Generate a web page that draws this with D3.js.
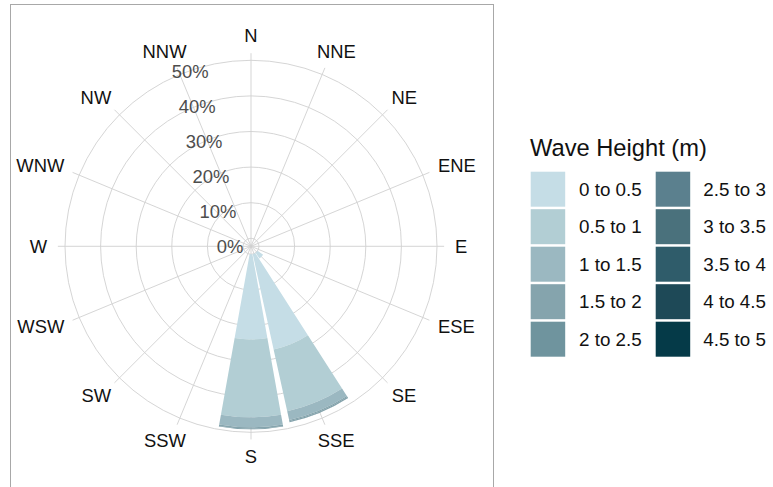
<!DOCTYPE html>
<html>
<head>
<meta charset="utf-8">
<script src="https://cdn.jsdelivr.net/npm/d3@7"></script>
<style>
  html, body { margin: 0; padding: 0; background: #fff; }
  svg { display: block; }
  text { font-family: "Liberation Sans", Arial, Helvetica, sans-serif; }
</style>
</head>
<body>
<svg id="chart" width="773" height="487"></svg>
<script>
// ---- data ----
const directions = ["N","NNE","NE","ENE","E","ESE","SE","SSE","S","SSW","SW","WSW","W","WNW","NW","NNW"];
const bins = ["0 to 0.5","0.5 to 1","1 to 1.5","1.5 to 2","2 to 2.5","2.5 to 3","3 to 3.5","3.5 to 4","4 to 4.5","4.5 to 5"];
const binColors = ["#c5dde6","#b2ced4","#9bb8c1","#85a4ad","#6f949e","#5b808e","#4a717c","#2f5c6a","#1e4957","#053a48"];
const radialTicks = [0, 10, 20, 30, 40, 50];
const tickLabels = ["0%","10%","20%","30%","40%","50%"];
// percent frequency per direction (N ... NNW) for each wave height bin
const h0_05  = [0,0,0,0,0,0,1.9,27.4,23.9,0,0,0,0,0,0,0];
const h05_1  = [0,0,0,0,0,0,0,17.8,21.9,0,0,0,0,0,0,0];
const h1_15  = [0,0,0,0,0,0,0,2.5,2.8,0,0,0,0,0,0,0];
const h15_2  = [0,0,0,0,0,0,0,0.35,0.4,0,0,0,0,0,0,0];
const h2_25  = [0,0,0,0,0,0,0,0.2,0.15,0,0,0,0,0,0,0];
const h25_3  = [0,0,0,0,0,0,0,0.1,0,0,0,0,0,0,0,0];
const h3_35  = [0,0,0,0,0,0,0,0,0,0,0,0,0,0,0,0];
const h35_4  = [0,0,0,0,0,0,0,0,0,0,0,0,0,0,0,0];
const h4_45  = [0,0,0,0,0,0,0,0,0,0,0,0,0,0,0,0];
const h45_5  = [0,0,0,0,0,0,0,0,0,0,0,0,0,0,0,0];
const series = [h0_05,h05_1,h1_15,h15_2,h2_25,h25_3,h3_35,h35_4,h4_45,h45_5];

// ---- layout ----
const svg = d3.select("#chart");
const cx = 251, cy = 246.3;
const r = d3.scaleLinear().domain([0, 50]).range([8, 186]);
const step = 2 * Math.PI / directions.length;
const ang = d3.scaleBand().domain(directions).range([-step/2, 2*Math.PI - step/2]);
const theta = d => ang(d) + ang.bandwidth()/2;

svg.append("rect").attr("width", 773).attr("height", 487).attr("fill", "#fff");

const g = svg.append("g").attr("transform", `translate(${cx},${cy})`);

// grid circles
g.selectAll("circle.grid").data(radialTicks).join("circle")
  .attr("r", d => r(d)).attr("fill", "none")
  .attr("stroke", "#d0d0d0").attr("stroke-width", 0.9);

// spokes
g.selectAll("line.spoke").data(directions).join("line")
  .attr("x1", 0).attr("y1", 0)
  .attr("x2", d => Math.sin(theta(d)) * r(52))
  .attr("y2", d => -Math.cos(theta(d)) * r(52))
  .attr("stroke", "#d0d0d0").attr("stroke-width", 0.9);

// stacked bars
const stackData = [];
directions.forEach((dir, i) => {
  let acc = 0;
  series.forEach((s, k) => {
    const v = s[i];
    if (v > 0) {
      stackData.push({dir, k, y0: acc, y1: acc + v});
      acc += v;
    }
  });
});
const arc = d3.arc()
  .innerRadius(d => r(d.y0))
  .outerRadius(d => r(d.y1))
  .startAngle(d => theta(d.dir) - step * 0.45)
  .endAngle(d => theta(d.dir) + step * 0.45);
g.selectAll("path.bar").data(stackData).join("path")
  .attr("d", arc).attr("fill", d => binColors[d.k]);

// radial tick labels (placed along the axis at the start angle)
const tilt = step / 2;
g.selectAll("text.tick").data(radialTicks).join("text")
  .attr("x", d => -7.7 - Math.sin(tilt) * (r(d) - r(0)))
  .attr("y", d => -Math.cos(tilt) * (r(d) - r(0)))
  .attr("text-anchor", "end").attr("dominant-baseline", "central")
  .attr("font-size", 18.4).attr("fill", "#4d4d4d")
  .text((d, i) => tickLabels[i]);

// direction labels, justified outward from an anchor circle
const labelR = 204, capH = 12.8;
g.selectAll("text.dir").data(directions).join("text")
  .attr("text-anchor", "middle").attr("dominant-baseline", "central")
  .attr("font-size", 18.4).attr("fill", "#111")
  .text(d => d)
  .each(function(d) {
    const t = theta(d), s = Math.sin(t), c = Math.cos(t);
    const w = this.getComputedTextLength();
    d3.select(this)
      .attr("x", s * labelR + s / 2 * w)
      .attr("y", -c * labelR - c / 2 * capH);
  });

// panel border
svg.append("rect").attr("x", 10.5).attr("y", 4.5).attr("width", 483).attr("height", 520)
  .attr("fill", "none").attr("stroke", "#a8a8a8").attr("stroke-width", 1);

// legend
const leg = svg.append("g");
leg.append("text").attr("x", 530).attr("y", 156)
  .attr("font-size", 23.7).attr("fill", "#111").text("Wave Height (m)");
const perCol = 5, keyW = 34.5, keyH = 35, pitch = 37.5;
const colX = [530.7, 655.7], labX = [579, 703.3], top0 = 171.7;
bins.forEach((b, i) => {
  const c = Math.floor(i / perCol), rr = i % perCol;
  leg.append("rect").attr("x", colX[c]).attr("y", top0 + rr * pitch)
    .attr("width", keyW).attr("height", keyH).attr("fill", binColors[i]);
  leg.append("text").attr("x", labX[c]).attr("y", top0 + rr * pitch + keyH/2)
    .attr("dominant-baseline", "central").attr("font-size", 18.8).attr("fill", "#111")
    .text(b);
});
</script>
</body>
</html>
